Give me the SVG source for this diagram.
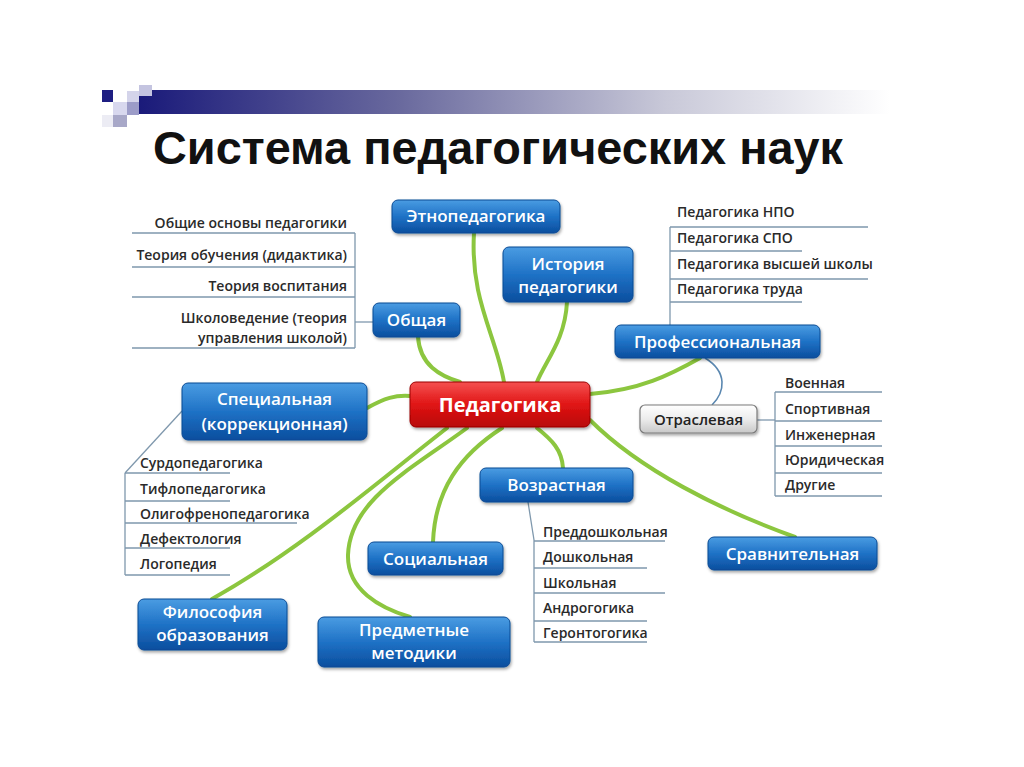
<svg xmlns="http://www.w3.org/2000/svg" width="1024" height="767" viewBox="0 0 1024 767">
<defs>
<linearGradient id="bar" x1="0" y1="0" x2="1" y2="0">
<stop offset="0" stop-color="#1a1a7a"/>
<stop offset="0.35" stop-color="#6a6a9e"/>
<stop offset="0.7" stop-color="#c8c8d8"/>
<stop offset="1" stop-color="#ffffff"/>
</linearGradient>
<linearGradient id="blue" x1="0" y1="0" x2="0" y2="1">
<stop offset="0" stop-color="#4a9ce2"/>
<stop offset="0.5" stop-color="#1f72c6"/>
<stop offset="1" stop-color="#0b4e9e"/>
</linearGradient>
<linearGradient id="red" x1="0" y1="0" x2="0" y2="1">
<stop offset="0" stop-color="#f55050"/>
<stop offset="0.5" stop-color="#e01515"/>
<stop offset="1" stop-color="#b80606"/>
</linearGradient>
<linearGradient id="gray" x1="0" y1="0" x2="0" y2="1">
<stop offset="0" stop-color="#ffffff"/>
<stop offset="0.5" stop-color="#ececec"/>
<stop offset="1" stop-color="#c8c8c8"/>
</linearGradient>
<filter id="sh" x="-10%" y="-20%" width="120%" height="150%">
<feDropShadow dx="1" dy="2" stdDeviation="1.5" flood-color="#000" flood-opacity="0.35"/>
</filter>
</defs>
<style>
.bn{fill:url(#blue);stroke:#0a4a94;stroke-width:1;filter:url(#sh)}
.rn{fill:url(#red);stroke:#9a0000;stroke-width:1;filter:url(#sh)}
.gn{fill:url(#gray);stroke:#7a7a7a;stroke-width:1.2;filter:url(#sh)}
.nt{font-family:"Open Sans","Noto Sans",sans-serif;font-size:17px;font-weight:600;fill:#ffffff;text-anchor:middle}
.rt{font-family:"Open Sans","Noto Sans",sans-serif;font-size:20px;font-weight:bold;fill:#ffffff;text-anchor:middle}
.gt{font-family:"Open Sans","Noto Sans",sans-serif;font-size:15px;font-weight:600;fill:#222222;text-anchor:middle}
.lt{font-family:"Open Sans","Noto Sans",sans-serif;font-size:14px;font-weight:600;fill:#2a2a2a}
.ll{stroke:#7f98ad;stroke-width:1.3;fill:none}
.gc{stroke:#8cc63f;stroke-width:4;fill:none;stroke-linecap:round}
.bc{stroke:#5a87b0;stroke-width:1.6;fill:none}
</style>
<rect width="1024" height="767" fill="#ffffff"/>
<g id="header">
<rect x="139" y="90" width="751" height="24" fill="url(#bar)"/>
<rect x="102" y="90" width="11" height="12" fill="#1e1e82"/>
<rect x="127" y="91" width="12" height="11" fill="#d4d4ea"/>
<rect x="139" y="85" width="13" height="11" fill="#c4c4e0"/>
<rect x="113" y="102" width="14" height="13" fill="#d8d8ee"/>
<rect x="127" y="102" width="12" height="13" fill="#9c9cc8"/>
<rect x="102" y="115" width="11" height="12" fill="#ececf4"/>
<rect x="113" y="115" width="14" height="12" fill="#a8a8c8"/>
<text x="153" y="164" font-family="Liberation Sans, Arial, sans-serif" font-size="47" font-weight="bold" fill="#111111" textLength="690" lengthAdjust="spacingAndGlyphs">Система педагогических наук</text>
</g>
<g id="connectors">
<path class="gc" d="M474,233 C470,300 496,335 504,382"/>
<path class="gc" d="M567,302 C565,340 546,360 537,382"/>
<path class="gc" d="M418,337 C420,365 440,376 460,382"/>
<path class="gc" d="M367,408 C385,398 395,395 410,396"/>
<path class="gc" d="M590,394 C640,390 670,375 700,358"/>
<path class="gc" d="M590,420 C640,470 720,510 795,537"/>
<path class="gc" d="M537,428 C552,440 562,450 563,468"/>
<path class="gc" d="M502,428 C460,455 435,490 433,542"/>
<path class="gc" d="M447,428 C380,480 300,550 212,599"/>
<path class="gc" d="M467,428 C410,470 350,500 348,555 C347,590 380,608 410,617"/>
<path class="bc" d="M705,358 C728,372 725,392 712,405"/>
<path class="ll" d="M355,322 L373,322"/>
<path class="ll" d="M670,227 L670,325"/>
<path class="ll" d="M757,420 L775,420"/>
<path class="ll" d="M182,411 L125,473"/>
<path class="ll" d="M528,502 L534,540"/>
</g>
<g id="n-center">
<rect class="rn" x="410" y="382" width="180" height="45" rx="6"/>
<text class="rt" x="500" y="412">Педагогика</text>
</g>
<g id="n-etno">
<rect class="bn" x="392" y="200" width="168" height="33" rx="6"/>
<text class="nt" x="476" y="222">Этнопедагогика</text>
</g>
<g id="n-istoriya">
<rect class="bn" x="503" y="247" width="130" height="55" rx="6"/>
<text class="nt" x="568" y="270">История</text>
<text class="nt" x="568" y="293">педагогики</text>
</g>
<g id="n-obshaya">
<rect class="bn" x="373" y="303" width="87" height="34" rx="6"/>
<text class="nt" x="416.5" y="326">Общая</text>
</g>
<g id="n-prof">
<rect class="bn" x="615" y="325" width="205" height="33" rx="6"/>
<text class="nt" x="717.5" y="348">Профессиональная</text>
</g>
<g id="n-otrasl">
<rect class="gn" x="640" y="405" width="117" height="28" rx="5"/>
<text class="gt" x="698.5" y="425">Отраслевая</text>
</g>
<g id="n-spec">
<rect class="bn" x="182" y="383" width="185" height="57" rx="6"/>
<text class="nt" x="274.5" y="405">Специальная</text>
<text class="nt" x="274.5" y="430">(коррекционная)</text>
</g>
<g id="n-vozrast">
<rect class="bn" x="480" y="468" width="153" height="34" rx="6"/>
<text class="nt" x="556.5" y="491">Возрастная</text>
</g>
<g id="n-social">
<rect class="bn" x="368" y="542" width="135" height="33" rx="6"/>
<text class="nt" x="435.5" y="565">Социальная</text>
</g>
<g id="n-sravn">
<rect class="bn" x="708" y="537" width="169" height="33" rx="6"/>
<text class="nt" x="792.5" y="560">Сравнительная</text>
</g>
<g id="n-filos">
<rect class="bn" x="138" y="599" width="149" height="51" rx="6"/>
<text class="nt" x="212.5" y="618">Философия</text>
<text class="nt" x="212.5" y="641">образования</text>
</g>
<g id="n-predmet">
<rect class="bn" x="318" y="617" width="192" height="50" rx="6"/>
<text class="nt" x="414" y="636">Предметные</text>
<text class="nt" x="414" y="659">методики</text>
</g>
<g id="list-obshaya">
<path class="ll" d="M132,233 H355 M132,267 H355 M132,297 H355 M132,348 H355 M355,233 V348"/>
<g class="lt" text-anchor="end">
<text x="347" y="228">Общие основы педагогики</text>
<text x="347" y="260">Теория обучения (дидактика)</text>
<text x="347" y="291">Теория воспитания</text>
<text x="347" y="323">Школоведение (теория</text>
<text x="347" y="343">управления школой)</text>
</g>
</g>
<g id="list-prof">
<path class="ll" d="M670,227 H868 M670,251 H802 M670,279 H868 M670,302 H802"/>
<g class="lt">
<text x="677" y="217">Педагогика НПО</text>
<text x="677" y="243">Педагогика СПО</text>
<text x="677" y="269">Педагогика высшей школы</text>
<text x="677" y="294">Педагогика труда</text>
</g>
</g>
<g id="list-otrasl">
<path class="ll" d="M775,392 H882 M775,421 H882 M775,446 H882 M775,473 H882 M775,496 H882 M775,392 V496"/>
<g class="lt">
<text x="785" y="388">Военная</text>
<text x="785" y="414">Спортивная</text>
<text x="785" y="440">Инженерная</text>
<text x="785" y="465">Юридическая</text>
<text x="785" y="490">Другие</text>
</g>
</g>
<g id="list-spec">
<path class="ll" d="M125,473 H230 M125,501 H230 M125,523 H297 M125,548 H230 M125,575 H230 M125,473 V575"/>
<g class="lt">
<text x="140" y="468">Сурдопедагогика</text>
<text x="140" y="494">Тифлопедагогика</text>
<text x="140" y="519">Олигофренопедагогика</text>
<text x="140" y="544">Дефектология</text>
<text x="140" y="569">Логопедия</text>
</g>
</g>
<g id="list-vozrast">
<path class="ll" d="M534,540 V642 M534,541 H665 M534,568 H647 M534,593 H665 M534,621 H647 M534,642 H647"/>
<g class="lt">
<text x="543" y="537">Преддошкольная</text>
<text x="543" y="562">Дошкольная</text>
<text x="543" y="588">Школьная</text>
<text x="543" y="613">Андрогогика</text>
<text x="543" y="638">Геронтогогика</text>
</g>
</g>
</svg>
